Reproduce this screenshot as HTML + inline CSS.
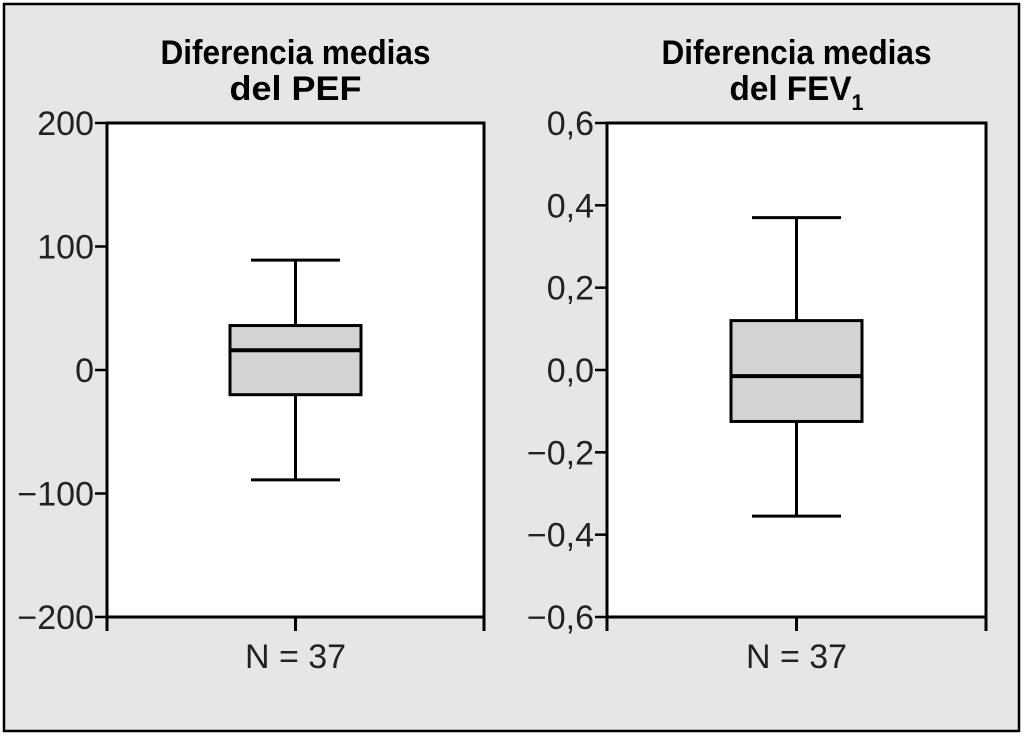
<!DOCTYPE html>
<html><head><meta charset="utf-8"><style>
html,body{margin:0;padding:0;background:#fff;}
svg{display:block;font-family:"Liberation Sans",sans-serif;}
</style></head><body>
<svg id="c" width="1024" height="736" viewBox="0 0 1024 736">
<rect x="4" y="4" width="1015" height="727" fill="#e6e6e6" stroke="#000" stroke-width="2.5"/>
<g id="g"></g>
</svg>
<script>
// data
const panelTitles1 = ["Diferencia medias", "Diferencia medias"];
const panelTitles2 = ["del PEF", "del FEV"];
const yTicksPEF = [200, 100, 0, -100, -200];
const yTickLabelsPEF = ["200", "100", "0", "\u2212100", "\u2212200"];
const yTicksFEV = [0.6, 0.4, 0.2, 0, -0.2, -0.4, -0.6];
const yTickLabelsFEV = ["0,6", "0,4", "0,2", "0,0", "\u22120,2", "\u22120,4", "\u22120,6"];
const statsPEF = [-89, -20, 16, 36, 89]; // min, q1, median, q3, max
const statsFEV = [-0.355, -0.125, -0.015, 0.12, 0.37];
const nLabels = ["N = 37", "N = 37"];

const NS = "http://www.w3.org/2000/svg";
const g = document.getElementById("g");
function mk(tag, attrs, parent) {
  const e = document.createElementNS(NS, tag);
  for (const k in attrs) e.setAttribute(k, attrs[k]);
  (parent || g).appendChild(e);
  return e;
}
const top0 = 123, bot0 = 617;
function panel(idx, x0, x1, ymin, ymax, ticks, labels, stats) {
  const y = v => bot0 - (v - ymin) / (ymax - ymin) * (bot0 - top0);
  const cx = (x0 + x1) / 2;
  const p = mk("g", {});
  
  
  const bg = mk("rect", {x: x0, y: top0, width: x1 - x0, height: bot0 - top0, fill: "#fff", stroke: "#000", "stroke-width": 3}, p);
  
  
  const t1 = mk("text", {x: cx, y: 64, "text-anchor": "middle", "font-size": 34, "font-weight": "bold", textLength: 270, lengthAdjust: "spacingAndGlyphs"}, p);
  t1.textContent = panelTitles1[idx];
  
  
  const t2 = mk("text", {x: cx, y: 100, "text-anchor": "middle", "font-size": 34, "font-weight": "bold", textLength: idx === 1 ? 134 : 132, lengthAdjust: "spacingAndGlyphs"}, p);
  t2.textContent = panelTitles2[idx];
  if (idx === 1) {
    const ts = mk("tspan", {"font-size": 22, dy: 10}, t2);
    ts.textContent = "1";
  }
  
  
  ticks.forEach((v, i) => {
    const tk = mk("line", {x1: x0 - 12, x2: x0, y1: y(v), y2: y(v), stroke: "#000", "stroke-width": 2.5}, p);
    
    
    const tl = mk("text", {x: x0 - 13, y: y(v) + 12, "text-anchor": "end", "font-size": 34, fill: "#222"}, p);
    tl.textContent = labels[i];
    
    
  });
  [x0, cx, x1].forEach(xx => {
    const bt = mk("line", {x1: xx, x2: xx, y1: bot0, y2: bot0 + 14, stroke: "#000", "stroke-width": 3}, p);
    
    
  });
  const nl = mk("text", {x: cx, y: 668, "text-anchor": "middle", "font-size": 34, fill: "#222"}, p);
  nl.textContent = nLabels[idx];
  
  
  const [mn, q1, md, q3, mx] = stats;
  const bw = 131, cw = 89;
  const w1 = mk("line", {x1: cx, x2: cx, y1: y(mx), y2: y(q3), stroke: "#000", "stroke-width": 3}, p);
  
  
  const w2 = mk("line", {x1: cx, x2: cx, y1: y(q1), y2: y(mn), stroke: "#000", "stroke-width": 3}, p);
  
  
  const c1 = mk("line", {x1: cx - cw / 2, x2: cx + cw / 2, y1: y(mx), y2: y(mx), stroke: "#000", "stroke-width": 3}, p);
  
  
  const c2 = mk("line", {x1: cx - cw / 2, x2: cx + cw / 2, y1: y(mn), y2: y(mn), stroke: "#000", "stroke-width": 3}, p);
  
  
  const bx = mk("rect", {x: cx - bw / 2, y: y(q3), width: bw, height: y(q1) - y(q3), fill: "#d3d3d3", stroke: "#000", "stroke-width": 3}, p);
  
  
  const ml = mk("line", {x1: cx - bw / 2, x2: cx + bw / 2, y1: y(md), y2: y(md), stroke: "#000", "stroke-width": 4}, p);
  
  
}
panel(0, 107, 484, -200, 200, yTicksPEF, yTickLabelsPEF, statsPEF);
panel(1, 607, 986, -0.6, 0.6, yTicksFEV, yTickLabelsFEV, statsFEV);
</script>
</body></html>
